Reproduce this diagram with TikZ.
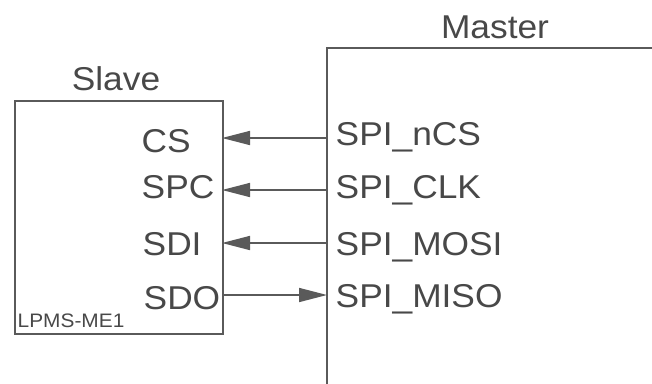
\documentclass[tikz,border=0pt]{standalone}
\usepackage{fontspec}
\setmainfont[FakeStretch=1.07]{Liberation Sans}
\usetikzlibrary{arrows.meta}
\definecolor{linegray}{HTML}{5A5A5A}
\definecolor{textgray}{HTML}{484848}
\tikzset{
  box/.style={draw=linegray, line width=2pt},
  pin/.style={font=\fontsize{33}{38}\selectfont, text=textgray, inner sep=0pt, anchor=base west},
  title/.style={font=\fontsize{33}{38}\selectfont, text=textgray, inner sep=0pt, anchor=base},
  sig/.style={draw=linegray, line width=1.6pt, -{Triangle[length=28pt, width=14pt]}},
}
\begin{document}
\begin{tikzpicture}[x=1pt, y=-1pt]
\useasboundingbox (0,0) rectangle (652,383);
\clip (0,0) rectangle (652,383);

% slave device
\node[box, rectangle, inner sep=0pt, minimum width=208pt, minimum height=233pt, anchor=north west] (slave) at (14,100) {};
\node[title] (slavetitle) at (116,90) {Slave};
\node[font=\fontsize{19.5}{22}\selectfont, text=textgray, inner sep=0pt, anchor=base west] (part) at (17.5,327) {LPMS-ME1};

% master device (open on the right and bottom)
\draw[box] (327,400) -- (327,48) -- (670,48);
\node[title] (mastertitle) at (495,38) {Master};

% pin labels
\node[pin] (cs)  at (141.5,152) {CS};
\node[pin] (spc) at (141.5,198) {SPC};
\node[pin] (sdi) at (142.5,255) {SDI};
\node[pin] (sdo) at (143.5,309) {SDO};

\node[pin] (ncs)  at (335.5,145) {SPI\_nCS};
\node[pin] (clk)  at (335.5,198) {SPI\_CLK};
\node[pin] (mosi) at (335.5,255) {SPI\_MOSI};
\node[pin] (miso) at (335.5,307) {SPI\_MISO};

% connection points on the box edges
\coordinate (s1) at (222,138);
\coordinate (s2) at (222,190);
\coordinate (s3) at (222,243);
\coordinate (s4) at (222,295);
\coordinate (m1) at (327,138);
\coordinate (m2) at (327,190);
\coordinate (m3) at (327,243);
\coordinate (m4) at (327,295);

\draw[sig] (m1) -- (s1);
\draw[sig] (m2) -- (s2);
\draw[sig] (m3) -- (s3);
\draw[sig] (s4) -- (m4);
\end{tikzpicture}
\end{document}
